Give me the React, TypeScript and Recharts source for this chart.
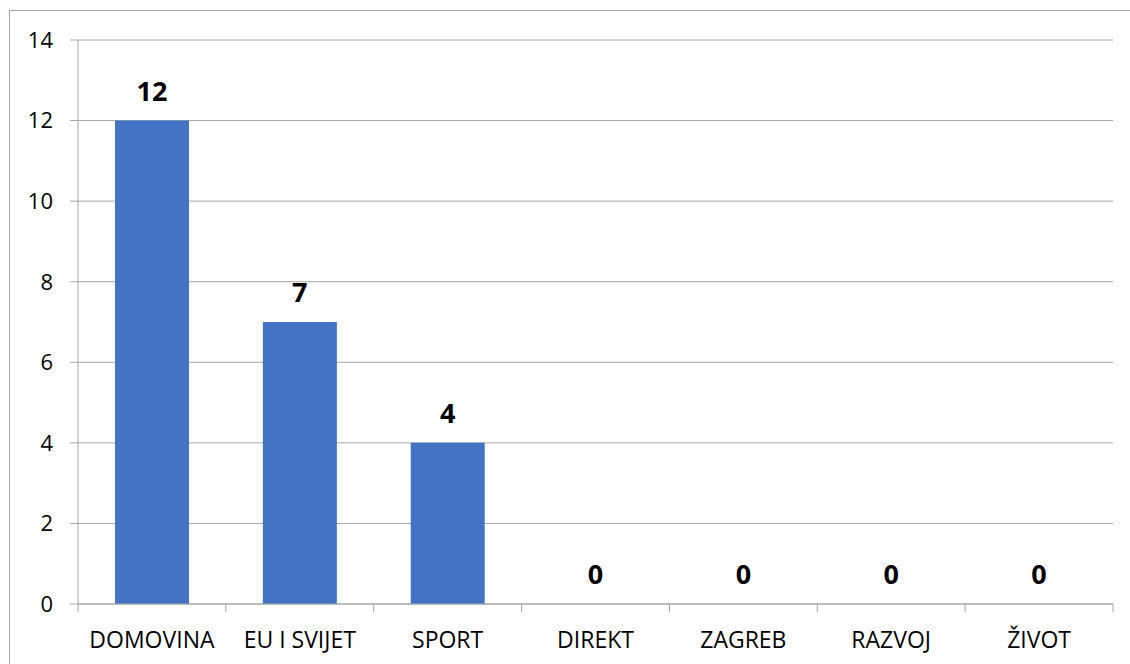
import React from "react";
import { ComposedChart, Bar, Line, XAxis, YAxis, CartesianGrid, LabelList } from "recharts";

const categories = ["DOMOVINA", "EU I SVIJET", "SPORT", "DIREKT", "ZAGREB", "RAZVOJ", "ŽIVOT"];
const values = [12, 7, 4, 0, 0, 0, 0];
const yTicks = [0, 2, 4, 6, 8, 10, 12, 14];

const data = categories.map((name, i) => ({ name, value: values[i] }));

const GRAY = "#a6a6a6";
const FONT = "'Open Sans', 'Liberation Sans', sans-serif";
const TICK_MARGIN = 28;
const TICK_LEN = 8;

function CategoryTick(props: any) {
  const { x, y, payload, index, width, visibleTicksCount } = props;
  const band = width / visibleTicksCount;
  const axisY = y - TICK_MARGIN;
  return (
    <g>
      <line x1={x - band / 2} x2={x - band / 2} y1={axisY} y2={axisY + TICK_LEN} stroke={GRAY} />
      {index === visibleTicksCount - 1 && (
        <line x1={x + band / 2} x2={x + band / 2} y1={axisY} y2={axisY + TICK_LEN} stroke={GRAY} />
      )}
      <text x={x} y={y} dy="0.71em" textAnchor="middle" fill="#000" fontSize={23} fontFamily={FONT}>
        {payload.value}
      </text>
    </g>
  );
}

export default function App() {
  return (
    <div style={{ position: "fixed", left: 0, top: 0, width: 1130, height: 664, background: "#fff" }}>
      <svg style={{ position: "absolute", left: 0, top: 0, display: "block" }} width={1130} height={664}>
        <line x1={9.5} x2={1130} y1={10.5} y2={10.5} stroke={GRAY} />
        <line x1={9.5} x2={9.5} y1={10} y2={664} stroke={GRAY} />
      </svg>
      <div style={{ position: "absolute", left: 0, top: 0 }}>
        <ComposedChart width={1130} height={664} data={data} margin={{ top: 40, right: 17, bottom: 0, left: 0 }}>
          <CartesianGrid vertical={false} stroke={GRAY} strokeWidth={1} />
          <XAxis
            dataKey="name"
            height={60}
            tickSize={0}
            tickMargin={TICK_MARGIN}
            tickLine={false}
            axisLine={{ stroke: GRAY }}
            interval={0}
            tick={<CategoryTick />}
          />
          <YAxis
            width={78}
            domain={[0, 14]}
            ticks={yTicks}
            tickSize={8}
            tickMargin={17}
            axisLine={{ stroke: GRAY }}
            tickLine={{ stroke: GRAY }}
            tick={{ fill: "#000", fontSize: 22, fontFamily: FONT }}
          />
          <Bar dataKey="value" fill="#4472C4" barSize={74} isAnimationActive={false} />
          <Line dataKey="value" stroke="none" dot={false} activeDot={false} isAnimationActive={false}>
            <LabelList
              dataKey="value"
              position="top"
              offset={20}
              style={{ fill: "#000", fontSize: 27, fontWeight: 700, fontFamily: FONT }}
            />
          </Line>
        </ComposedChart>
      </div>
    </div>
  );
}
